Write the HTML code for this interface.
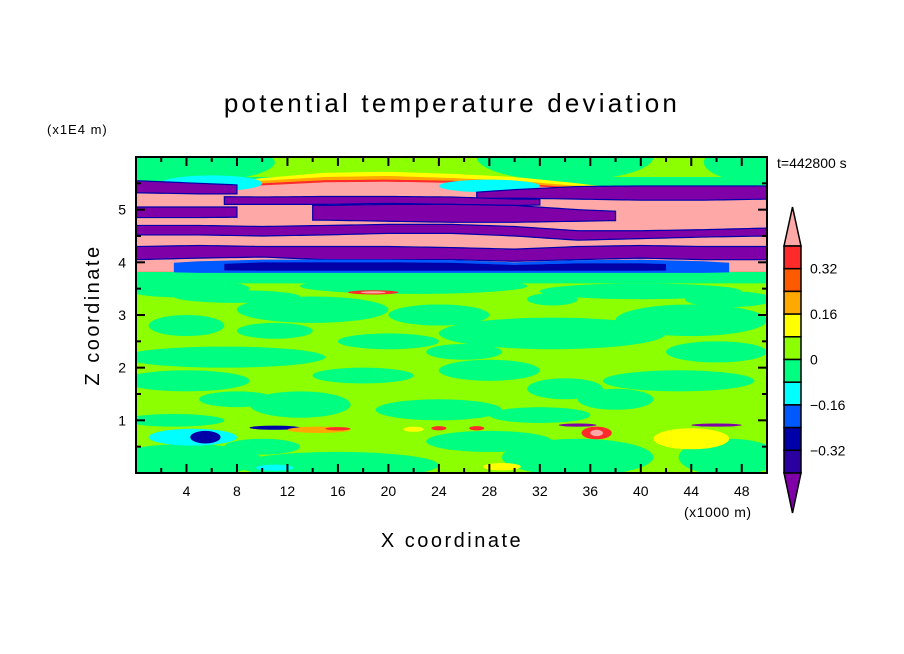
<!DOCTYPE html>
<html><head><meta charset="utf-8"><style>
body{margin:0;background:#fff;}
svg{display:block;font-family:"Liberation Sans",sans-serif;}
</style></head><body>
<svg id="c" width="904" height="654" viewBox="0 0 904 654">
<defs><clipPath id="pc"><rect x="136" y="157" width="631" height="316"/></clipPath></defs>
<text x="452" y="112" text-anchor="middle" font-size="26" letter-spacing="3.2">potential temperature deviation</text>
<text x="47" y="134" font-size="13" letter-spacing="1">(x1E4 m)</text>
<text x="777" y="168" font-size="14">t=442800 s</text>
<text transform="translate(99,315) rotate(-90)" text-anchor="middle" font-size="20" letter-spacing="2.5">Z coordinate</text>
<text x="452" y="547" text-anchor="middle" font-size="20" letter-spacing="2.5">X coordinate</text>
<text x="684" y="517" font-size="14" letter-spacing="0.5">(x1000 m)</text>
<g id="field" clip-path="url(#pc)"></g>
<g id="axes"></g>
<g id="cbar"></g>
</svg>
<script>
const xTicks=[4,8,12,16,20,24,28,32,36,40,44,48];
const zTicks=[1,2,3,4,5];
const levelLabels=["0.32","0.16","0","−0.16","−0.32"];
const levelColors=["#ffa8a8","#ff2a2a","#ff5a00","#ffa800","#ffff00","#8cff00","#00ff80","#00ffff","#0058ff","#0000a8","#2a00a0","#8000a8"];
const xs=[0,5,10,15,20,25,30,35,40,45,50];
// green (#00ff80) blobs: [x km, z, rx km, rz]
const greenBlobs=[[3,5.9,8,0.4],[34,6.0,7,0.45],[50,5.9,5,0.4],[4,3.5,5,0.17],[22,3.55,9,0.15],[40,3.45,8,0.15],[14,3.1,6,0.25],[4,2.8,3,0.2],[33,2.65,9,0.3],[44,2.9,6,0.3],[33,3.3,2,0.12],[47,3.3,3.5,0.15],[7,2.2,8,0.2],[11,2.7,3,0.15],[28,1.95,4,0.2],[43,1.75,6,0.2],[4,1.75,5,0.2],[13,1.3,4,0.25],[24,1.2,5,0.2],[32,1.1,4,0.15],[3,1.0,4,0.12],[4,0.25,6,0.3],[16,0.15,8,0.25],[35,0.3,6,0.35],[47,0.3,4,0.35],[20,2.5,4,0.15],[38,1.4,3,0.2],[24,3.0,4,0.2],[8,3.35,5,0.12],[26,2.3,3,0.15],[46,2.3,4,0.2],[18,1.85,4,0.15],[34,1.6,3,0.2],[8,1.4,3,0.15],[28,0.6,5,0.2],[10,0.5,3,0.15]];
// small feature blobs: [x, z, rx, rz, colorIndex]
const spots=[[6,5.5,4,0.15,7],[28,5.45,4,0.12,7],[4.5,0.68,3.5,0.16,7],[5.5,0.68,1.2,0.12,9],[11,0.86,2,0.04,9],[14.5,0.82,2.5,0.06,3],[16,0.84,1,0.03,1],[36.5,0.76,1.2,0.12,1],[36.5,0.76,0.5,0.06,0],[35,0.91,1.5,0.03,11],[46,0.91,2,0.03,11],[44,0.65,3,0.2,4],[11,0.1,1.5,0.06,7],[29,0.12,1.5,0.07,4],[18.8,3.43,2,0.04,1],[18.8,3.43,1,0.02,0],[24,0.85,0.6,0.04,1],[27,0.85,0.6,0.04,1],[22,0.83,0.8,0.05,4]];
// upper layered bands: arrays of z at xs
const yellowTop=[5.4,5.45,5.6,5.7,5.72,5.68,5.62,5.5,5.35,5.35,5.35];
const orangeTop=[5.38,5.42,5.55,5.62,5.64,5.6,5.55,5.45,5.33,5.33,5.33];
const redTop=[5.36,5.4,5.5,5.56,5.57,5.55,5.5,5.42,5.32,5.32,5.32];
const pinkTop=[5.34,5.38,5.46,5.52,5.53,5.51,5.46,5.4,5.3,5.3,5.3];
const pinkBot=[3.82,3.82,3.82,3.82,3.82,3.82,3.82,3.82,3.82,3.82,3.82];
// purple stripes: [x0,x1, topZ array (at xs), bottomZ array]
const stripes=[
 [0,8,[5.55,5.5,5.45,5.45,5.45,5.45,5.45,5.45,5.45,5.45,5.45],[5.32,5.3,5.3,5.3,5.3,5.3,5.3,5.3,5.3,5.3,5.3]],
 [27,50,[5.3,5.3,5.3,5.3,5.3,5.3,5.38,5.44,5.45,5.45,5.45],[5.2,5.2,5.2,5.2,5.2,5.2,5.22,5.2,5.18,5.18,5.2]],
 [7,32,[5.25,5.25,5.24,5.25,5.25,5.24,5.2,5.2,5.2,5.2,5.2],[5.1,5.1,5.1,5.1,5.12,5.1,5.08,5.1,5.1,5.1,5.1]],
 [0,8,[5.05,5.05,5.05,5.05,5.05,5.05,5.05,5.05,5.05,5.05,5.05],[4.85,4.85,4.86,4.86,4.86,4.86,4.86,4.86,4.86,4.86,4.86]],
 [14,38,[5.1,5.1,5.1,5.08,5.1,5.1,5.08,5.0,4.95,4.95,4.95],[4.8,4.8,4.8,4.8,4.78,4.76,4.76,4.78,4.8,4.8,4.8]],
 [0,50,[4.7,4.7,4.68,4.7,4.72,4.72,4.68,4.6,4.6,4.62,4.65],[4.52,4.52,4.5,4.52,4.55,4.55,4.5,4.42,4.45,4.48,4.5]],
 [0,50,[4.3,4.32,4.3,4.3,4.3,4.28,4.25,4.3,4.32,4.3,4.3],[4.05,4.08,4.1,4.05,4.05,4.05,4.02,4.05,4.08,4.05,4.05]]];
const blueTop=[3.95,4.02,4.05,4.05,4.05,4.04,4.0,4.04,4.05,4.02,3.95];
const blueBot=[3.82,3.8,3.8,3.8,3.8,3.8,3.8,3.8,3.8,3.8,3.82];
const dblueTop=[3.9,3.95,4.0,4.0,4.0,3.99,3.95,3.98,3.98,3.95,3.9];
const dblueBot=[3.86,3.85,3.84,3.84,3.84,3.84,3.84,3.84,3.84,3.85,3.86];

const NS="http://www.w3.org/2000/svg";
const X=k=>136+k*12.62, Y=z=>473-z*52.67;
const field=document.getElementById('field'), axes=document.getElementById('axes'), cb=document.getElementById('cbar');
function mk(tag,attrs,parent){const e=document.createElementNS(NS,tag);for(const k in attrs)e.setAttribute(k,attrs[k]);parent.appendChild(e);return e;}
function interp(arr,k){let i=Math.min(9,Math.floor(k/5));let t=(k-xs[i])/5;return arr[i]+(arr[i+1]-arr[i])*t;}
function band(top,bot,x0,x1,col,name,stroke){let pts=[];for(let k=x0;k<=x1+0.001;k+=0.5)pts.push(X(k)+","+Y(interp(top,k)));for(let k=x1;k>=x0-0.001;k-=0.5)pts.push(X(k)+","+Y(interp(bot,k)));
 const p=mk('polygon',{points:pts.join(' '),fill:col},field);if(stroke){p.setAttribute('stroke',stroke);p.setAttribute('stroke-width','1.2');}
 
 }
const bg=mk('rect',{x:136,y:157,width:631,height:316,fill:levelColors[5]},field);


greenBlobs.forEach(b=>{const e=mk('ellipse',{cx:X(b[0]),cy:Y(b[1]),rx:b[2]*12.62,ry:b[3]*52.67,fill:levelColors[6]},field);
 
 });
const low=Array(11).fill(3.6), skyTop=Array(11).fill(5.62);
band(skyTop,low,0,50,levelColors[6],'upper-green-layer');
band(yellowTop,pinkBot,0,50,levelColors[4],'yellow-layer');
band(orangeTop,pinkBot,0,50,levelColors[3],'orange-layer');
band(redTop,pinkBot,0,50,levelColors[1],'red-layer');
band(pinkTop,pinkBot,0,50,levelColors[0],'pink-layer');
spots.slice(0,2).forEach(s=>{const e=mk('ellipse',{cx:X(s[0]),cy:Y(s[1]),rx:s[2]*12.62,ry:s[3]*52.67,fill:levelColors[s[4]]},field);
 
 });
stripes.forEach(s=>band(s[2],s[3],s[0],s[1],levelColors[11],'purple-stripe','#0000a8'));
band(blueTop,blueBot,3,47,levelColors[8],'blue-band');
band(dblueTop,dblueBot,7,42,levelColors[9],'dark-blue-band');
spots.slice(2).forEach(s=>{const e=mk('ellipse',{cx:X(s[0]),cy:Y(s[1]),rx:s[2]*12.62,ry:s[3]*52.67,fill:levelColors[s[4]]},field);
 
 });
// frame and ticks
const fr=mk('rect',{x:136,y:157,width:631,height:316,fill:'none',stroke:'#000','stroke-width':2},axes);


for(let k=2;k<50;k+=2){const L=(k%4===0)?9:5;
 mk('line',{x1:X(k),x2:X(k),y1:473,y2:473-L,stroke:'#000','stroke-width':2},axes);
 mk('line',{x1:X(k),x2:X(k),y1:157,y2:157+L,stroke:'#000','stroke-width':2},axes);}
for(let z=0.5;z<6;z+=0.5){const L=(z%1===0)?9:5;
 mk('line',{x1:136,x2:136+L,y1:Y(z),y2:Y(z),stroke:'#000','stroke-width':2},axes);
 mk('line',{x1:767,x2:767-L,y1:Y(z),y2:Y(z),stroke:'#000','stroke-width':2},axes);}
xTicks.forEach(k=>{const t=mk('text',{x:X(k),y:496,'text-anchor':'middle','font-size':14},axes);t.textContent=k;
 
 });
zTicks.forEach(z=>{const t=mk('text',{x:126,y:Y(z)+5,'text-anchor':'end','font-size':14},axes);t.textContent=z;
 
 });
// colorbar
const cx0=784,cw=17,cTop=246,cBot=473,bh=(cBot-cTop)/10;
const tri1=mk('polygon',{points:`${cx0},${cTop} ${cx0+cw},${cTop} ${cx0+cw/2},207`,fill:levelColors[0],stroke:'#000','stroke-width':1.5},cb);


for(let i=0;i<10;i++){const r=mk('rect',{x:cx0,y:cTop+i*bh,width:cw,height:bh,fill:levelColors[i+1],stroke:'#000','stroke-width':1.5},cb);
 
 }
const tri2=mk('polygon',{points:`${cx0},${cBot} ${cx0+cw},${cBot} ${cx0+cw/2},513`,fill:levelColors[11],stroke:'#000','stroke-width':1.5},cb);


levelLabels.forEach((l,i)=>{const t=mk('text',{x:810,y:cTop+(1+2*i)*bh+5,'font-size':14},cb);t.textContent=l;
 
 });
</script>
</body></html>
